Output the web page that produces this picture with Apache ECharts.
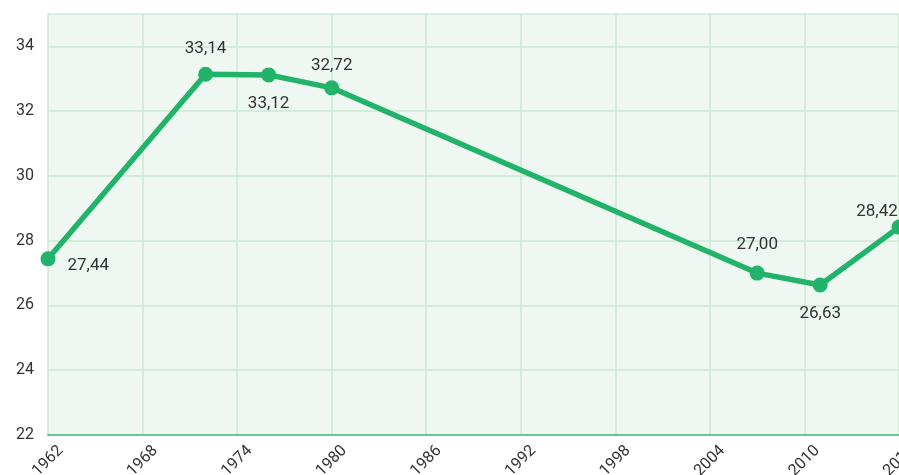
<!DOCTYPE html>
<html>
<head>
<meta charset="utf-8">
<script src="https://cdn.jsdelivr.net/npm/echarts@6/dist/echarts.min.js"></script>
<style>
  html, body { margin: 0; padding: 0; background: #fff; }
  #chart { width: 899px; height: 475px; }
</style>
</head>
<body>
<div id="chart"></div>
<script>
// data
const years = [1962, 1972, 1976, 1980, 2007, 2011, 2016];
const values = [27.44, 33.14, 33.12, 32.72, 27.0, 26.63, 28.42];
// where each value label sits relative to its point
const labelPos = ["right", "top", "bottom", "top", "top", "bottom", "top"];
const labelOffset = [[0, 7], [0, 3], [0, 1], [0, 6], [0, 0], [0, 1], [-22, 13]];

const chart = echarts.init(document.getElementById("chart"));

const fmt = (v) => v.toFixed(2).replace(".", ",");

const option = {
  animation: false,
  grid: {
    left: 48,
    right: 0,
    top: 14,
    bottom: 40,
    show: true,
    backgroundColor: "#eef7f1",
    borderWidth: 0,
    containLabel: false,
    outerBoundsMode: "none",
  },
  xAxis: {
    type: "value",
    min: 1962,
    max: 2016,
    interval: 6,
    axisLine: { show: true, lineStyle: { color: "#6cc58f", width: 2 } },
    axisTick: { show: false },
    splitLine: { show: true, lineStyle: { color: "#cde9d6", width: 1.5 } },
    axisLabel: {
      rotate: 45,
      align: "center",
      verticalAlign: "middle",
      fontSize: 16,
      color: "#333",
      fontFamily: "Roboto",
      margin: 26,
      hideOverlap: false,
      formatter: (v) => String(v),
    },
  },
  yAxis: {
    type: "value",
    min: 22,
    max: 35,
    interval: 2,
    axisLine: { show: false },
    axisTick: { show: false },
    splitLine: { show: true, lineStyle: { color: "#cde9d6", width: 1.5 } },
    axisLabel: {
      fontSize: 16,
      color: "#333",
      fontFamily: "Roboto",
      margin: 14,
      showMaxLabel: false,
    },
  },
  series: [
    {
      type: "line",
      data: years.map((y, i) => ({
        value: [y, values[i]],
        label: { position: labelPos[i], offset: labelOffset[i] },
      })),
      symbol: "circle",
      symbolSize: 15,
      clip: false,
      lineStyle: { color: "#21b36a", width: 5.5 },
      itemStyle: { color: "#21b36a" },
      label: {
        show: true,
        fontSize: 17,
        color: "#333",
        fontFamily: "Roboto",
        distance: 12,
        formatter: (p) => fmt(p.value[1]),
      },
    },
  ],
};

chart.setOption(option);
</script>
</body>
</html>
